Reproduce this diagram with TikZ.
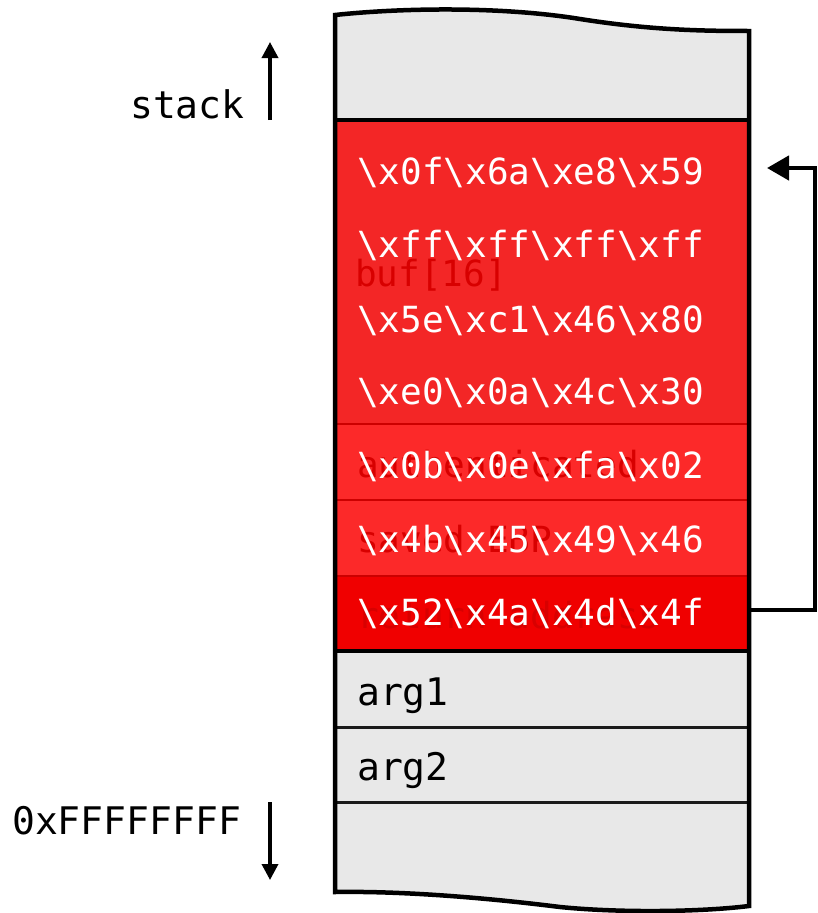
\documentclass[tikz,border=0pt]{standalone}
\usepackage{fontspec}
\newfontfamily\mono{DejaVu Sans Mono}
\usetikzlibrary{arrows.meta}
\definecolor{slotgrey}{HTML}{E8E8E8}
\definecolor{bufred}{HTML}{F32626}
\definecolor{savedred}{HTML}{FC2929}
\definecolor{retred}{HTML}{F00000}
\definecolor{divred}{HTML}{CC0000}
\definecolor{ghostred}{HTML}{D80000}
\definecolor{rule}{HTML}{1A1A1A}

\begin{document}
\begin{tikzpicture}[x=1pt,y=-1pt,
  hex/.style={anchor=base west, inner sep=0pt, text=white, font=\mono\fontsize{36}{40}\selectfont},
  ghost/.style={anchor=base west, inner sep=0pt, text=ghostred, font=\mono\fontsize{36}{40}\selectfont},
  lbl/.style={anchor=base west, inner sep=0pt, text=black, font=\mono\fontsize{38}{42}\selectfont},
  divider/.style={divred, line width=2.5pt},
  slotline/.style={rule, line width=3pt},
  growarrow/.style={line width=3.5pt, -{Triangle[length=16pt,width=16pt]}},
  jumparrow/.style={line width=4.5pt, line join=miter, -{Triangle[length=22pt,width=24pt]}}]
\useasboundingbox (0,0) rectangle (818,913);

% stack outline with torn top and bottom edges
\def\stackoutline{(335,15) .. controls (400,8) and (500,6) .. (580,19)
  .. controls (650,30) and (700,31) .. (749,31) -- (749,906)
  .. controls (700,912) and (620,913) .. (560,907)
  .. controls (480,897) and (400,891) .. (335,892) -- cycle}
\fill[slotgrey] \stackoutline;

% overflowed region
\fill[bufred] (335,120) rectangle (749,424);
\fill[savedred] (335,424) rectangle (749,576);
\fill[retred] (335,576) rectangle (749,652);

% original slot names, shining through the payload
\node[ghost] (nbuf) at (355,286) {buf[16]};
\node[ghost] (nauth) at (357,477) {authenticated};
\node[ghost] (nebp) at (357,552) {saved EBP};
\node[ghost] (nret) at (357,628) {return address};

% payload bytes
\node[hex] (h1) at (357,184) {\textbackslash x0f\textbackslash x6a\textbackslash xe8\textbackslash x59};
\node[hex] (h2) at (357,257) {\textbackslash xff\textbackslash xff\textbackslash xff\textbackslash xff};
\node[hex] (h3) at (357,332) {\textbackslash x5e\textbackslash xc1\textbackslash x46\textbackslash x80};
\node[hex] (h4) at (357,404) {\textbackslash xe0\textbackslash x0a\textbackslash x4c\textbackslash x30};
\node[hex] (h5) at (357,478) {\textbackslash x0b\textbackslash x0e\textbackslash xfa\textbackslash x02};
\node[hex] (h6) at (357,552) {\textbackslash x4b\textbackslash x45\textbackslash x49\textbackslash x46};
\node[hex] (h7) at (357,625) {\textbackslash x52\textbackslash x4a\textbackslash x4d\textbackslash x4f};

% arguments
\node[lbl] (a1) at (357,705) {arg1};
\node[lbl] (a2) at (357,780) {arg2};

% slot separators
\draw[divider] (335,424) -- (749,424);
\draw[divider] (335,500) -- (749,500);
\draw[divider] (335,576) -- (749,576);
\draw[line width=3.5pt] (335,120) -- (749,120);
\draw[line width=4pt] (335,651) -- (749,651);
\draw[slotline] (335,727) -- (749,727);
\draw[slotline] (335,802) -- (749,802);

\draw[line width=4.5pt, line join=miter] \stackoutline;

% growth direction
\node[lbl] (stk) at (130,118) {stack};
\coordinate (upfrom) at (270,120);
\coordinate (upto) at (270,42);
\draw[growarrow] (upfrom) -- (upto);

\node[lbl] (top) at (12,834) {0xFFFFFFFF};
\coordinate (downfrom) at (270,802);
\coordinate (downto) at (270,880);
\draw[growarrow] (downfrom) -- (downto);

% return jumps back into the buffer
\coordinate (retout) at (749,610);
\coordinate (bufin) at (767,168);
\draw[jumparrow] (retout) -- (815,610) |- (bufin);
\end{tikzpicture}
\end{document}
